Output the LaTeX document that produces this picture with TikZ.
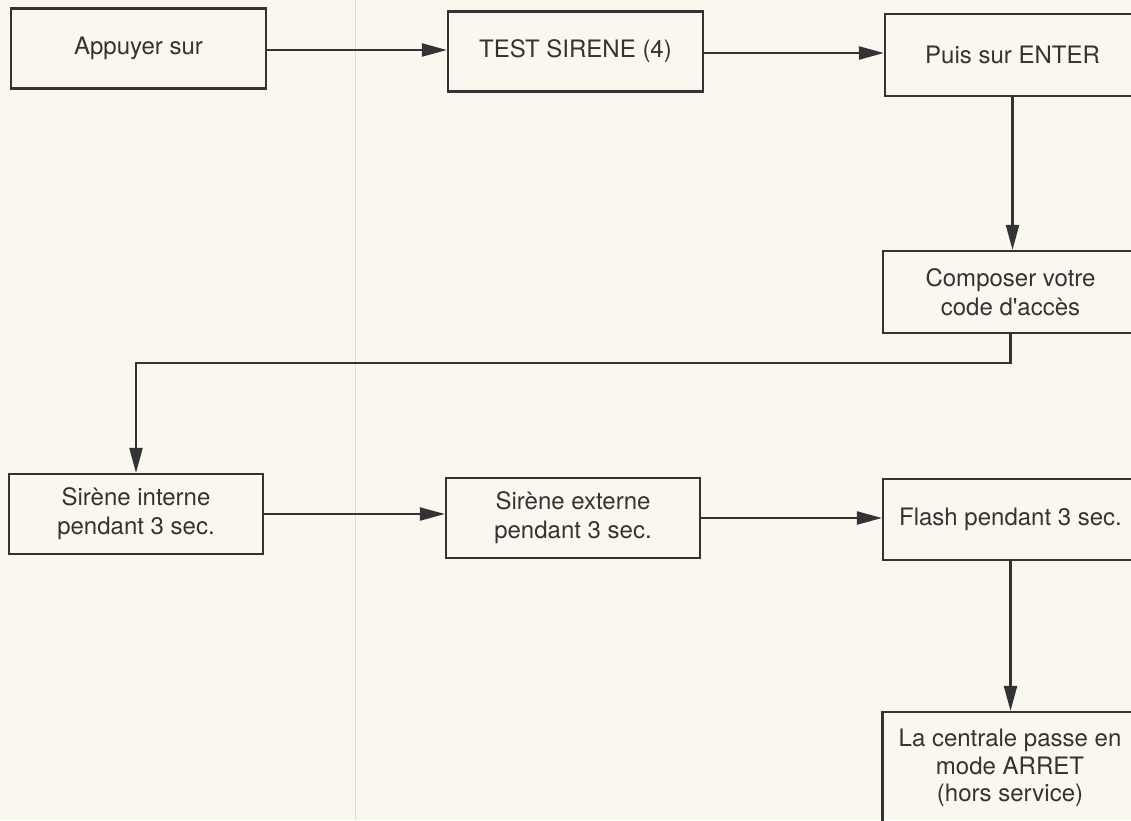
\documentclass[tikz,border=0pt]{standalone}
\usepackage{fontspec}
\setmainfont{TeX Gyre Heros}
\usetikzlibrary{arrows.meta}

\definecolor{paper}{HTML}{FAF8EE}
\definecolor{ink}{HTML}{333333}
\definecolor{gutter}{HTML}{DEDCD4}

\begin{document}
\begin{tikzpicture}[x=1pt, y=-1pt,
	box/.style={draw=ink, line width=2.2pt, minimum width=255pt, minimum height=80pt,
		inner sep=0pt, align=center, font=\fontsize{24}{29}\selectfont, text=ink},
	flow/.style={draw=ink, line width=2.2pt, -{Triangle[length=25pt, width=13pt]}}]

	\useasboundingbox (0, 0) rectangle (1131, 820);
	\clip (0, 0) rectangle (1131, 820);
	\fill[paper] (0, 0) rectangle (1131, 820);

	% page gutter
	\draw[gutter, line width=0.8pt] (355, 0) -- (355, 820);

	% top row
	\node[box] (appuyer) at (138.5, 48.5) {Appuyer sur};
	\node[box] (test) at (575.5, 51.5) {TEST SIRENE (4)};
	\node[box, minimum height=82pt] (enter) at (1012.5, 55) {Puis sur ENTER};

	% code
	\node[box, minimum height=82pt] (code) at (1010.5, 292) {Composer votre\\code d\textquotesingle accès};

	% middle row
	\node[box, minimum width=254pt] (interne) at (136, 514) {Sirène interne\\pendant 3 sec.};
	\node[box, minimum width=254pt] (externe) at (573, 518) {Sirène externe\\pendant 3 sec.};
	\node[box, minimum height=81pt] (flash) at (1010.5, 519.5) {Flash pendant 3 sec.};

	% last box
	\node[box, minimum height=112pt, font=\fontsize{24}{27.5}\selectfont] (arret) at (1010, 768) {La centrale passe en\\mode ARRET\\(hors service)};

	% connectors
	\draw[flow] (appuyer.east) ++(0, 1.5) -- (test.west |- 0, 50);
	\draw[flow] (test.east) ++(0, 1.5) -- (enter.west |- 0, 53);
	\draw[flow] (enter.south) -- (enter.south |- code.north);
	\draw[flow] (code.south) -- ++(0, 29) -| (interne.north); % back to the left
	\draw[flow] (interne.east) -- (externe.west |- interne.east);
	\draw[flow] (externe.east) -- (flash.west |- externe.east);
	\draw[flow] (flash.south) -- (flash.south |- arret.north);

\end{tikzpicture}
\end{document}
